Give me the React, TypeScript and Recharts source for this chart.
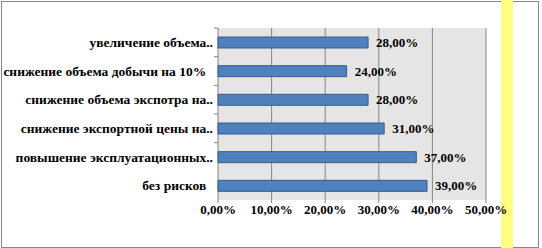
import { Bar, BarChart, CartesianGrid, LabelList, XAxis, YAxis } from "recharts";

const categories = [
  "увеличение объема..",
  "снижение объема добычи на 10%  ",
  "снижение объема экспотра на..",
  "снижение экспортной цены на..",
  "повышение эксплуатационных..",
  "без рисков  ",
];
const shares = [28, 24, 28, 31, 37, 39];
const xTicks = [0, 10, 20, 30, 40, 50];

const data = categories.map((name, i) => ({ name, value: shares[i] }));

const pct = (v: number) => v.toFixed(2).replace(".", ",") + "%";
const font = "Liberation Serif";

const CategoryTick = (props: any) => {
  const { x, y, payload, index } = props;
  const half = payload?.offset ?? 14.3;
  return (
    <g>
      {index < categories.length - 1 && (
        <line x1={x + 1} x2={x + 5} y1={y - half} y2={y - half} stroke="#868686" />
      )}
      <text
        x={x}
        y={y}
        dy="0.35em"
        textAnchor="end"
        fontFamily={font}
        fontWeight="bold"
        fontSize={13.5}
        fill="#000"
        style={{ whiteSpace: "pre" }}
      >
        {payload.value}
      </text>
    </g>
  );
};

export default function App() {
  return (
    <div style={{ position: "absolute", left: 0, top: 0, width: 542, height: 248, background: "#fff" }}>
      <div
        style={{
          position: "absolute",
          left: 1,
          top: 1,
          width: 538,
          height: 247,
          boxSizing: "border-box",
          border: "1px solid #868686",
        }}
      />
      <div style={{ position: "absolute", left: 501, top: 0, width: 12, height: 248, background: "#ffff80" }} />
      <div style={{ position: "absolute", left: 0, top: 0, fontFamily: font }}>
        <BarChart
          width={542}
          height={248}
          data={data}
          layout="vertical"
          margin={{ top: 28, right: 56, bottom: 18, left: 0 }}
          barSize={11}
        >
          <CartesianGrid horizontal={false} stroke="#868686" fill="#e5e5e5" />
          <XAxis
            type="number"
            domain={[0, 50]}
            ticks={xTicks}
            tickFormatter={pct}
            axisLine={false}
            tickLine={{ stroke: "#868686" }}
            tickSize={3}
            tickMargin={2}
            height={30}
            interval={0}
            tick={{ fontFamily: font, fontWeight: "bold", fontSize: 13, fill: "#000" }}
          />
          <YAxis
            type="category"
            dataKey="name"
            width={218}
            axisLine={false}
            tickLine={false}
            tickSize={0}
            tickMargin={5}
            interval={0}
            tick={<CategoryTick />}
          />
          <Bar dataKey="value" fill="#4f81bd" stroke="#385d8a" strokeWidth={1} isAnimationActive={false}>
            <LabelList
              dataKey="value"
              position="right"
              offset={8}
              formatter={(v: any) => pct(Number(v))}
              fontFamily={font}
              fontWeight="bold"
              fontSize={13}
              fill="#000"
            />
          </Bar>
        </BarChart>
      </div>
    </div>
  );
}
